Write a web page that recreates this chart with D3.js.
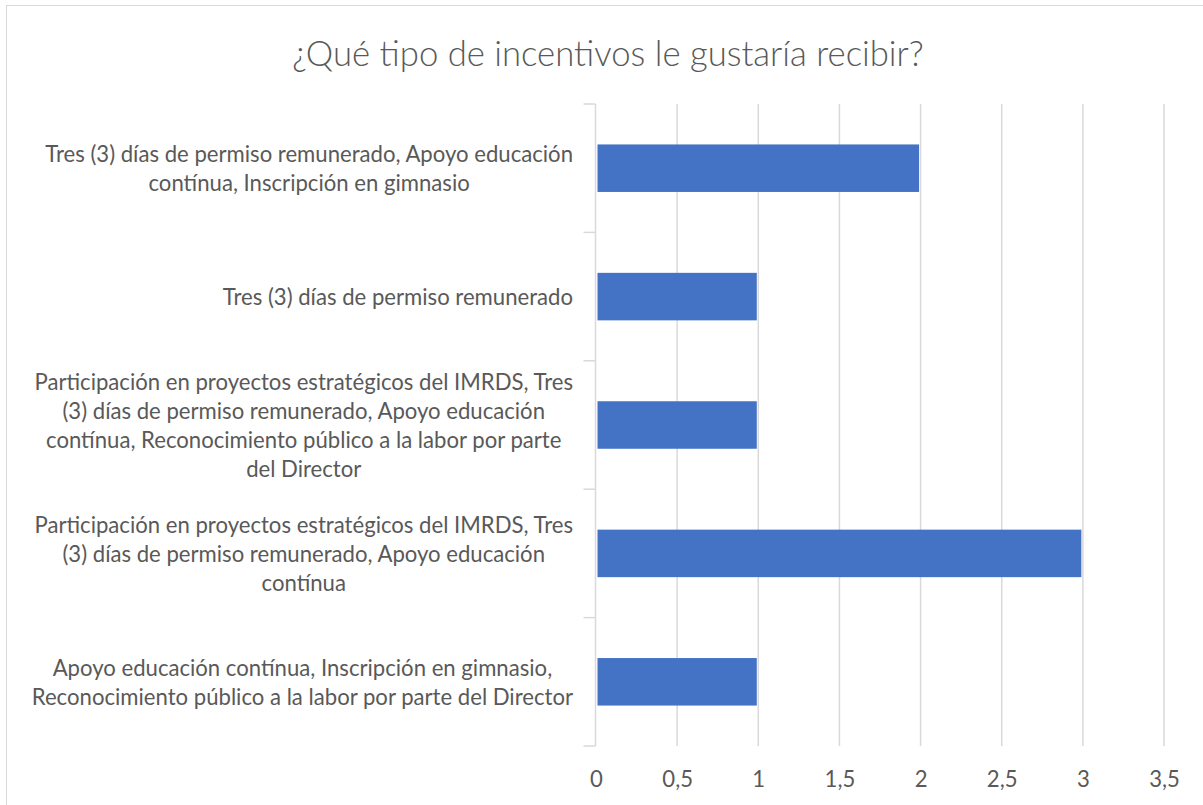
<!DOCTYPE html>
<html><head><meta charset="utf-8">
<script src="https://cdn.jsdelivr.net/npm/d3@7"></script>
<style>html,body{margin:0;padding:0;background:#fff;}svg{display:block;}</style>
</head><body><svg id="c" width="1203" height="805"></svg>
<script>
const title = "¿Qué tipo de incentivos le gustaría recibir?";
const categories = [
  "Tres (3) días de permiso remunerado, Apoyo educación contínua, Inscripción en gimnasio",
  "Tres (3) días de permiso remunerado",
  "Participación en proyectos estratégicos del IMRDS, Tres (3) días de permiso remunerado, Apoyo educación contínua, Reconocimiento público a la labor por parte del Director",
  "Participación en proyectos estratégicos del IMRDS, Tres (3) días de permiso remunerado, Apoyo educación contínua",
  "Apoyo educación contínua, Inscripción en gimnasio, Reconocimiento público a la labor por parte del Director"
];
const categoryLines = [
  ["Tres (3) días de permiso remunerado, Apoyo educación", "contínua, Inscripción en gimnasio"],
  ["Tres (3) días de permiso remunerado"],
  ["Participación en proyectos estratégicos del IMRDS, Tres", "(3) días de permiso remunerado, Apoyo educación", "contínua, Reconocimiento público a la labor por parte", "del Director"],
  ["Participación en proyectos estratégicos del IMRDS, Tres", "(3) días de permiso remunerado, Apoyo educación", "contínua"],
  ["Apoyo educación contínua, Inscripción en gimnasio,", "Reconocimiento público a la labor por parte del Director"]
];
const values = [2, 1, 1, 3, 1];
const xTicks = [0, 0.5, 1, 1.5, 2, 2.5, 3, 3.5];

const svg = d3.select("#c");
const FONT = "Lato, 'Open Sans', sans-serif";
const textColor = "#595959";
const gridColor = "#d9d9d9";

svg.append("rect").attr("x", 0).attr("y", 0).attr("width", 1203).attr("height", 805).attr("fill", "#fff");
svg.append("rect").attr("x", 6.5).attr("y", 5.5).attr("width", 1200).attr("height", 810)
  .attr("fill", "none").attr("stroke", gridColor).attr("stroke-width", 1);

const plot = {left: 596, right: 1164, top: 104, bottom: 746};
const x = d3.scaleLinear().domain([0, 3.5]).range([plot.left, plot.right]);
const slot = d3.scaleBand().domain(categories).range([plot.top, plot.bottom]).padding(0);
const y = d3.scaleBand().domain(categories).range([plot.top, plot.bottom]).paddingInner(0.63).paddingOuter(0.315);

// font size fitting helper
function fitSize(text, target, base) {
  const t = svg.append("text").attr("font-family", FONT).attr("font-size", base).text(text);
  const w = t.node().getComputedTextLength();
  t.remove();
  return base * target / w;
}
const titleSize = fitSize(title, 644, 30);
const labelSize = fitSize("Participación en proyectos estratégicos del IMRDS, Tres", 539, 20);

// title
svg.append("text").attr("x", 608).attr("y", 52).attr("text-anchor", "middle")
  .attr("dominant-baseline", "central")
  .attr("font-family", FONT).attr("font-weight", 300).attr("font-size", titleSize).attr("fill", textColor).text(title);

// gridlines
svg.append("g").selectAll("line").data(xTicks.filter(d => d > 0)).join("line")
  .attr("x1", d => x(d)).attr("x2", d => x(d))
  .attr("y1", plot.top).attr("y2", plot.bottom)
  .attr("stroke", gridColor).attr("stroke-width", 1.5);

// y axis line and ticks
const yAxis = d3.axisLeft(slot).tickSize(0).tickFormat("");
const ga = svg.append("g").attr("transform", `translate(${x(0) - 0.5},0)`).call(yAxis);
ga.select(".domain").remove();
ga.append("line").attr("x1", 0).attr("x2", 0).attr("y1", plot.top).attr("y2", plot.bottom)
  .attr("stroke", gridColor).attr("stroke-width", 1.5);
const boundaries = categories.map(c => slot(c)).concat([plot.bottom]);
ga.selectAll("line.tk").data(boundaries).join("line").attr("class", "tk")
  .attr("x1", -12).attr("x2", 0).attr("y1", d => d).attr("y2", d => d)
  .attr("stroke", gridColor).attr("stroke-width", 1.5);

// bars
svg.append("g").selectAll("rect").data(categories).join("rect")
  .attr("x", x(0) + 1.5)
  .attr("y", d => y(d))
  .attr("width", (d, i) => x(values[i]) - x(0) - 3)
  .attr("height", y.bandwidth())
  .attr("fill", "#4472c4");

// category labels
const lineH = 28.8;
const labelRight = 573;
categories.forEach((c, i) => {
  const lines = categoryLines[i];
  const g = svg.append("g");
  const texts = g.selectAll("text").data(lines).join("text")
    .attr("font-family", FONT).attr("font-size", labelSize).attr("fill", textColor)
    .attr("text-anchor", "middle").attr("dominant-baseline", "central")
    .text(d => d);
  let maxW = 0;
  texts.each(function() { maxW = Math.max(maxW, this.getComputedTextLength()); });
  const cx = labelRight - maxW / 2;
  const cy = slot(c) + slot.bandwidth() / 2;
  texts.attr("x", cx).attr("y", (d, j) => cy + (j - (lines.length - 1) / 2) * lineH);
});

// x axis tick labels
const xAxis = d3.axisBottom(x).tickValues(xTicks).tickSize(0).tickPadding(0)
  .tickFormat(d => String(d).replace(".", ","));
const gx = svg.append("g").attr("transform", `translate(0,${plot.bottom})`).call(xAxis);
gx.select(".domain").remove();
gx.selectAll("text").attr("font-family", FONT).attr("font-size", labelSize).attr("fill", textColor)
  .attr("dy", null).attr("y", 32).attr("dominant-baseline", "central");
</script></body></html>
